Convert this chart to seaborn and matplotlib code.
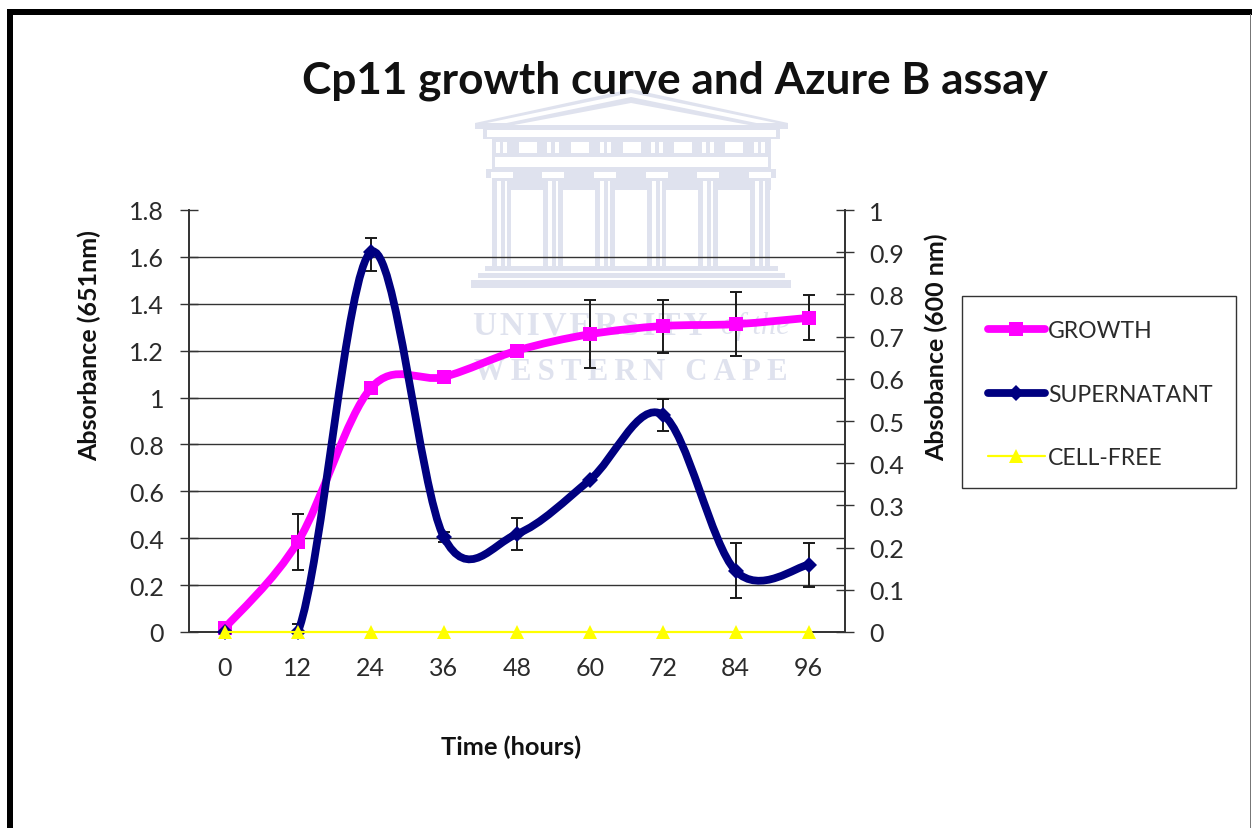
import numpy as np
import pandas as pd
import matplotlib
matplotlib.use("Agg")
import matplotlib.pyplot as plt
from matplotlib.lines import Line2D
from matplotlib.patches import PathPatch, Polygon, Rectangle
from matplotlib.path import Path
import seaborn as sns

W, H = 1252, 829

hours = [0, 12, 24, 36, 48, 60, 72, 84, 96]
growth = [0.017, 0.385, 1.04, 1.088, 1.2, 1.27, 1.305, 1.313, 1.34]
supernatant = [0.0, 0.0, 0.9, 0.225, 0.232, 0.36, 0.515, 0.145, 0.159]
cell_free = [0, 0, 0, 0, 0, 0, 0, 0, 0]

growth_err_hours = [12, 60, 72, 84, 96]
growth_err_vals = [0.385, 1.27, 1.305, 1.313, 1.34]
growth_err = [0.119, 0.145, 0.113, 0.137, 0.096]
super_err_hours = [12, 24, 36, 48, 72, 84, 96]
super_err_vals = [0.0, 0.895, 0.225, 0.232, 0.515, 0.145, 0.159]
super_err = [0.02, 0.039, 0.012, 0.038, 0.038, 0.065, 0.052]

left_ticks = [0, 0.2, 0.4, 0.6, 0.8, 1, 1.2, 1.4, 1.6, 1.8]
left_labels = ["0", "0.2", "0.4", "0.6", "0.8", "1", "1.2", "1.4", "1.6", "1.8"]
right_ticks = [0, 0.1, 0.2, 0.3, 0.4, 0.5, 0.6, 0.7, 0.8, 0.9, 1]
right_labels = ["0", "0.1", "0.2", "0.3", "0.4", "0.5", "0.6", "0.7", "0.8", "0.9", "1"]

MAGENTA, NAVY, YELLOW = "#FF00FF", "#000080", "#FFFF00"
INK = "#2b2b2b"
WM = "#dfe2ee"
LW = 5.6


def smooth_path(xs, ys):
    # excel style smoothed line, bezier through the points
    xs, ys = np.asarray(xs, float), np.asarray(ys, float)
    px = np.r_[xs[0], xs, xs[-1]]
    py = np.r_[ys[0], ys, ys[-1]]
    verts = [(xs[0], ys[0])]
    codes = [Path.MOVETO]
    for i in range(1, len(px) - 2):
        verts.append((px[i] + (px[i + 1] - px[i - 1]) / 6, py[i] + (py[i + 1] - py[i - 1]) / 6))
        verts.append((px[i + 1] - (px[i + 2] - px[i]) / 6, py[i + 1] - (py[i + 2] - py[i]) / 6))
        verts.append((px[i + 1], py[i + 1]))
        codes += [Path.CURVE4] * 3
    return Path(verts, codes)


def draw_watermark(bg):
    # university crest behind the chart, in pixel coords
    def rect(x0, y0, x1, y1, c=WM):
        bg.add_patch(Rectangle((x0, y0), x1 - x0, y1 - y0, fc=c, ec="none"))

    bg.add_patch(Polygon([(475, 124), (631, 90), (788, 124), (788, 130), (475, 130)], fc=WM, ec="none"))
    bg.add_patch(Polygon([(487, 124), (631, 94), (776, 124)], fc="white", ec="none"))
    bg.add_patch(Polygon([(497, 126), (631, 98), (766, 126), (766, 128), (497, 128)], fc=WM, ec="none"))
    bg.add_patch(Polygon([(514, 126), (631, 104), (749, 126)], fc="white", ec="none"))
    rect(483, 130, 780, 140)
    rect(487, 131, 776, 138, "white")
    rect(492, 140, 771, 170)
    rect(495, 158, 768, 168, "white")
    for x in [519, 571, 623, 674, 725]:
        rect(x, 143, x + 18, 154, "white")
    for x in [496, 503, 547, 555, 600, 607, 651, 659, 702, 710, 754, 761]:
        rect(x, 143, x + 4, 154, "white")
    rect(486, 170, 776, 179)
    rect(492, 179, 771, 191)
    for cx in [502, 553, 605, 657, 708, 760]:
        rect(cx - 11, 173, cx + 11, 179, "white")
        rect(cx - 10, 180, cx + 10, 267)
        rect(cx - 5, 182, cx - 1, 267, "white")
        rect(cx + 3, 182, cx + 5, 267, "white")
    for cx in [527, 579, 631, 682, 734]:
        rect(cx - 16, 191, cx + 16, 267, "white")
    rect(485, 267, 778, 272)
    rect(478, 274, 785, 279)
    rect(471, 281, 791, 289)
    serif = "Liberation Serif"
    bg.text(473, 326, "\u200a".join("UNIVERSITY"), color=WM, fontsize=24, family=serif, weight="bold", va="center", ha="left")
    bg.text(790, 326, "of the", color=WM, fontsize=22, family=serif, style="italic", va="center", ha="right")
    bg.text(474, 372, "\u2009".join("WESTERN CAPE"), color=WM, fontsize=22.2, family=serif, weight="bold", va="center", ha="left")


sns.set_theme(style="white")
plt.rcParams["font.family"] = ["Lato", "DejaVu Sans"]
plt.rcParams["text.color"] = INK

df = pd.DataFrame({"hours": hours, "growth": growth, "supernatant": supernatant, "cell_free": cell_free})

fig = plt.figure(figsize=(W / 100, H / 100), dpi=100, facecolor="white")

# pixel overlay for the frame, watermark and legend box
bg = fig.add_axes([0, 0, 1, 1], zorder=0)
bg.set_xlim(0, W)
bg.set_ylim(H, 0)
bg.axis("off")
draw_watermark(bg)
bg.add_patch(Rectangle((7, 10), 6, H - 10, fc="black", ec="none"))
bg.add_patch(Rectangle((7, 10), W - 7, 5.5, fc="black", ec="none"))
bg.add_patch(Rectangle((1250, 15), 1.2, H - 15, fc="#777777", ec="none"))
bg.add_patch(Rectangle((962, 297), 274, 192, fc="white", ec="#333333", lw=1.0))

ax = fig.add_axes([188.5 / W, (H - 633) / H, (845 - 188.5) / W, (633 - 211) / H], zorder=1)
ax.patch.set_alpha(0)
ax2 = ax.twinx()
ax2.set_zorder(2)
ax2.patch.set_alpha(0)

ax.set_xlim(-6, 102)
ax.set_ylim(0, 1.8)
ax2.set_ylim(0, 1)

for y in left_ticks[1:-1]:
    ax.axhline(y, color="#333333", lw=1.0, zorder=1)

# growth on the left axis
ax.errorbar(growth_err_hours, growth_err_vals, yerr=growth_err, fmt="none", ecolor="#1a1a1a",
            elinewidth=1.4, capsize=4.5, capthick=1.4, zorder=2)
ax.add_patch(PathPatch(smooth_path(hours, growth), fc="none", ec=MAGENTA, lw=LW, zorder=3, capstyle="round"))
sns.lineplot(data=df, x="hours", y="growth", ax=ax, color=MAGENTA, marker="s", markersize=10,
             markeredgewidth=0, linewidth=0, clip_on=False, zorder=4, legend=False)

# supernatant + cell-free on the right axis
ax2.errorbar(super_err_hours, super_err_vals, yerr=super_err, fmt="none", ecolor="#1a1a1a",
             elinewidth=1.4, capsize=4.5, capthick=1.4, zorder=2)
ax2.add_patch(PathPatch(smooth_path(hours, supernatant), fc="none", ec=NAVY, lw=LW, zorder=3, capstyle="round"))
sns.lineplot(data=df, x="hours", y="supernatant", ax=ax2, color=NAVY, marker="D", markersize=8,
             markeredgewidth=0, linewidth=0, clip_on=False, zorder=4, legend=False)
sns.lineplot(data=df, x="hours", y="cell_free", ax=ax2, color=YELLOW, marker="^", markersize=10.5,
             markeredgewidth=0, linewidth=1.6, clip_on=False, zorder=5, legend=False)

# ticks sit between the categories, labels on them
ax.set_xticks(np.array(hours + [108]) - 6)
ax.set_xticklabels([])
ax.set_xticks(hours, minor=True)
ax.set_xticklabels([str(h) for h in hours], minor=True)
ax.tick_params(axis="x", which="major", direction="inout", length=13.5, width=1, color="#333333")
ax.tick_params(axis="x", which="minor", length=0, pad=17, labelsize=18, labelcolor=INK)
ax.set_yticks(left_ticks)
ax.set_yticklabels(left_labels)
ax.tick_params(axis="y", direction="inout", length=13, width=1, color="#333333", pad=11, labelsize=18, labelcolor=INK, left=True)
ax2.set_yticks(right_ticks)
ax2.set_yticklabels(right_labels)
ax2.tick_params(axis="y", direction="inout", length=13, width=1, color="#333333", pad=11, labelsize=18, labelcolor=INK, right=True)

for a in (ax, ax2):
    a.spines["top"].set_visible(False)
    a.spines["left"].set_color("#333333")
    a.spines["right"].set_color("#333333")
    a.spines["bottom"].set_color("#333333")
    a.set_xlabel("")
    a.set_ylabel("")


def px_text(x, y, s, **kw):
    fig.text(x / W, 1 - y / H, s, ha="center", va="center", **kw)


px_text(675, 81, "Cp11 growth curve and Azure B assay", fontsize=31.8, weight="bold", color="#111111")
px_text(89, 346, "Absorbance (651nm)", fontsize=18, weight="bold", rotation=90, color="#111111")
px_text(936, 347, "Absobance (600 nm)", fontsize=18, weight="bold", rotation=90, color="#111111")
px_text(511, 747, "Time (hours)", fontsize=18.3, weight="bold", color="#111111")

handles = [
    Line2D([], [], color=MAGENTA, lw=LW, marker="s", markersize=10, markeredgewidth=0),
    Line2D([], [], color=NAVY, lw=LW, marker="D", markersize=8, markeredgewidth=0),
    Line2D([], [], color=YELLOW, lw=1.6, marker="^", markersize=10.5, markeredgewidth=0),
]
leg = fig.legend(handles, ["GROWTH", "SUPERNATANT", "CELL-FREE"], loc="upper left",
                 bbox_to_anchor=(988 / W, 1 - 321 / H), borderaxespad=0, fontsize=16.6,
                 labelspacing=1.85, borderpad=0, handlelength=2.47, handletextpad=0.13,
                 frameon=False)
leg.set_zorder(5)

fig.savefig("out.png", dpi=100)
